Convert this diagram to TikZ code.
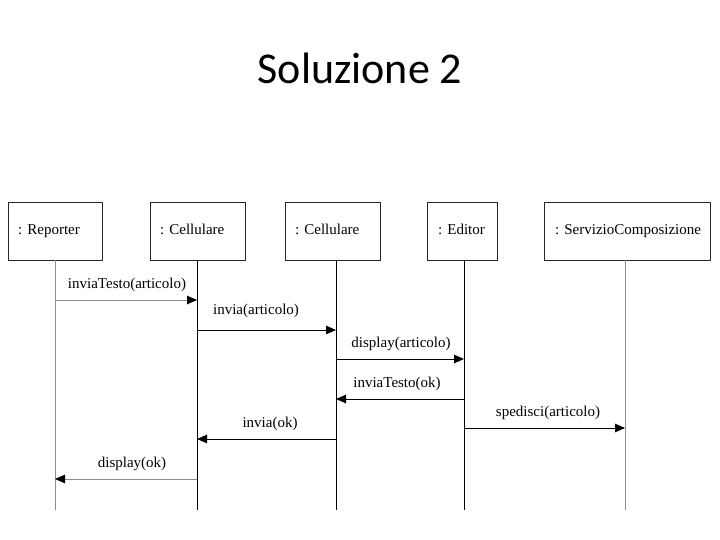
\documentclass[tikz,border=0pt]{standalone}
\usepackage{fontspec}
\setmainfont{Liberation Serif}
\newfontfamily\titlefont{Carlito}
\usetikzlibrary{arrows.meta}
\begin{document}
\begin{tikzpicture}[x=1pt,y=-1pt,
  obj/.style={draw=black!85,line width=0.8pt,minimum height=58pt,inner sep=0pt},
  life/.style={line width=0.9pt},
  msg/.style={line width=0.9pt,-{Triangle[length=10pt,width=8.5pt,color=black]}},
  lbl/.style={font=\fontsize{15}{18}\selectfont,inner sep=0pt,text height=10.5pt,text depth=3.5pt},
  grayline/.style={draw=black!45}]
\useasboundingbox (0,0) rectangle (720,540);
\node[font=\titlefont\fontsize{44}{52}\selectfont] (title) at (360,68) {Soluzione 2};
% objects
\node[obj,minimum width=94pt] (rep) at (55,231) {};
\node[lbl,anchor=west] (repT) at (18,231) {: Reporter};
\node[obj,minimum width=95pt] (cel1) at (197.5,231) {};
\node[lbl,anchor=west] (cel1T) at (160,231) {: Cellulare};
\node[obj,minimum width=95pt] (cel2) at (332.5,231) {};
\node[lbl,anchor=west] (cel2T) at (295,231) {: Cellulare};
\node[obj,minimum width=70pt] (ed) at (462,231) {};
\node[lbl,anchor=west] (edT) at (438,231) {: Editor};
\node[obj,minimum width=166pt] (srv) at (627,231) {};
\node[lbl,anchor=west] (srvT) at (555,231) {: ServizioComposizione};
% lifelines
\coordinate (repE) at (55,510);
\coordinate (cel1E) at (197,510);
\coordinate (cel2E) at (336,510);
\coordinate (edE) at (464,510);
\coordinate (srvE) at (625,510);
\draw[life,grayline] (rep.south) -- (repE);
\draw[life] (197,260) -- (cel1E);
\draw[life] (336,260) -- (cel2E);
\draw[life] (464,260) -- (edE);
\draw[life,grayline] (625,260) -- (srvE);
% message endpoints
\coordinate (m1a) at (55,300);  \coordinate (m1b) at (197,300);
\coordinate (m2a) at (197,330); \coordinate (m2b) at (336,330);
\coordinate (m3a) at (336,359); \coordinate (m3b) at (464,359);
\coordinate (m4a) at (464,399); \coordinate (m4b) at (336,399);
\coordinate (m5a) at (464,428); \coordinate (m5b) at (625,428);
\coordinate (m6a) at (336,439); \coordinate (m6b) at (197,439);
\coordinate (m7a) at (197,479); \coordinate (m7b) at (55,479);
\draw[msg,grayline] (m1a) -- (m1b);
\draw[msg] (m2a) -- (m2b);
\draw[msg] (m3a) -- (m3b);
\draw[msg] (m4a) -- (m4b);
\draw[msg] (m5a) -- (m5b);
\draw[msg] (m6a) -- (m6b);
\draw[msg,grayline] (m7a) -- (m7b);
% labels
\node[lbl] (l1) at (127,285) {inviaTesto(articolo)};
\node[lbl] (l2) at (256,311) {invia(articolo)};
\node[lbl] (l3) at (401,344) {display(articolo)};
\node[lbl] (l4) at (397,384) {inviaTesto(ok)};
\node[lbl] (l5) at (548,413) {spedisci(articolo)};
\node[lbl] (l6) at (270,424) {invia(ok)};
\node[lbl] (l7) at (132,464) {display(ok)};
\end{tikzpicture}
\end{document}
